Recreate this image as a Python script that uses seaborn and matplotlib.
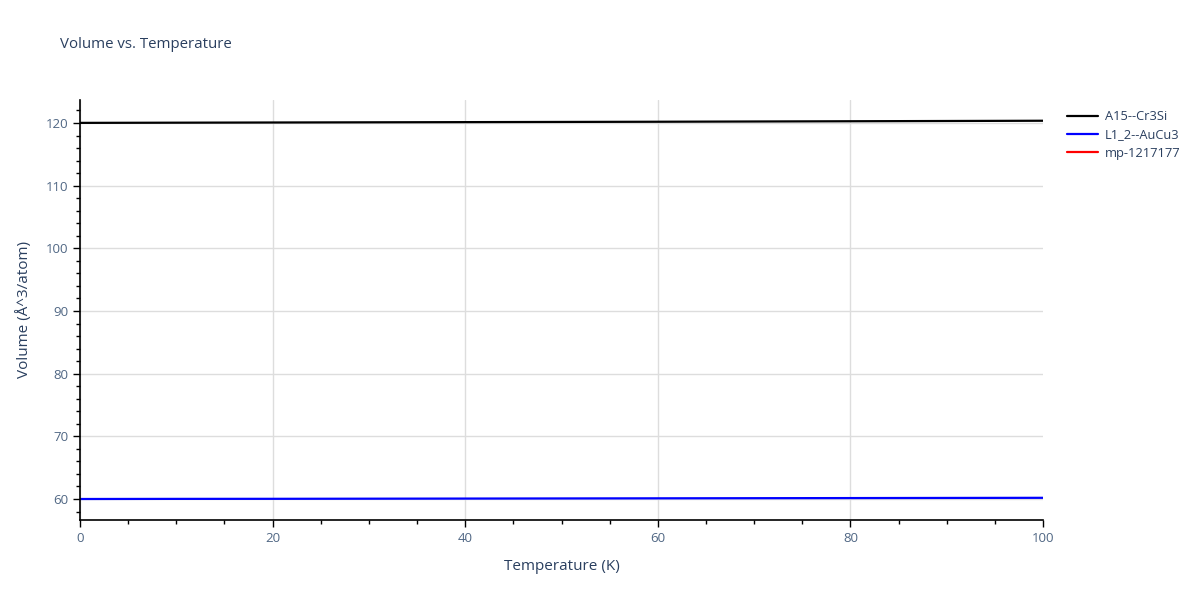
import matplotlib
matplotlib.use("Agg")
import matplotlib.pyplot as plt
from matplotlib.ticker import MultipleLocator
import pandas as pd
import seaborn as sns

# values
temperature = [0, 10, 20, 30, 40, 50, 60, 70, 80, 90, 100]
vol_a15 = [120.02, 120.05, 120.08, 120.11, 120.14, 120.17, 120.20, 120.24, 120.28, 120.32, 120.36]
vol_l12 = [60.00, 60.02, 60.03, 60.05, 60.07, 60.09, 60.11, 60.13, 60.15, 60.17, 60.19]
# mp-1217177 only shows up in the legend, no visible curve
temp_mp = []
vol_mp = []

names = ["A15--Cr3Si", "L1_2--AuCu3", "mp-1217177"]
colors = ["black", "blue", "red"]

df = pd.DataFrame({
    "Temperature": temperature * 2,
    "Volume": vol_a15 + vol_l12,
    "phase": [names[0]] * len(temperature) + [names[1]] * len(temperature),
})

sns.set_style("white")
plt.rcParams["font.family"] = ["Open Sans", "DejaVu Sans"]
txt = "#2a3f5f"
tick_col = "#506784"

fig = plt.figure(figsize=(12, 6), dpi=100)
ax = fig.add_axes([80 / 1200, 80 / 600, (1043 - 80) / 1200, 420 / 600])

sns.lineplot(data=df, x="Temperature", y="Volume", hue="phase",
             palette=dict(zip(names[:2], colors[:2])), linewidth=1.6,
             ax=ax, legend=False)
ax.plot(temp_mp, vol_mp, color=colors[2], linewidth=1.6)

ax.set_xlim(0, 100)
ax.set_ylim(56.65, 123.67)
ax.xaxis.set_major_locator(MultipleLocator(20))
ax.xaxis.set_minor_locator(MultipleLocator(5))
ax.yaxis.set_major_locator(MultipleLocator(10))
ax.yaxis.set_minor_locator(MultipleLocator(2))
ax.grid(True, which="major", color="#dddddd", linewidth=1)
ax.set_axisbelow(True)

for side in ["top", "right"]:
    ax.spines[side].set_visible(False)
for side in ["left", "bottom"]:
    ax.spines[side].set_color("black")
    ax.spines[side].set_linewidth(1.2)

ax.tick_params(which="major", direction="out", length=5, width=1, color="black",
               labelsize=9.5, labelcolor=tick_col, bottom=True, left=True)
ax.tick_params(which="minor", direction="out", length=3, width=1, color="black",
               bottom=True, left=True)

ax.set_xlabel("Temperature (K)", fontsize=11, color=txt, labelpad=10)
ax.set_ylabel("Volume (Å^3/atom)", fontsize=11, color=txt, labelpad=10)

fig.text(60 / 1200, 1 - 45 / 600, "Volume vs. Temperature", fontsize=10.8,
         color=txt, va="center", ha="left")

handles = ax.get_lines()[:3]
leg = fig.legend(handles, names, loc="upper left", bbox_to_anchor=(1062 / 1200, 1 - 105 / 600),
                 frameon=False, fontsize=9.3, handlelength=2.4, handletextpad=0.5,
                 labelspacing=0.4, borderaxespad=0)
for t in leg.get_texts():
    t.set_color(txt)

# no gridline on the right edge (x=100)
fig.canvas.draw()
for tick in ax.xaxis.get_major_ticks():
    if tick.get_loc() >= 100:
        tick.gridline.set_visible(False)

fig.savefig("out.png", dpi=100)
